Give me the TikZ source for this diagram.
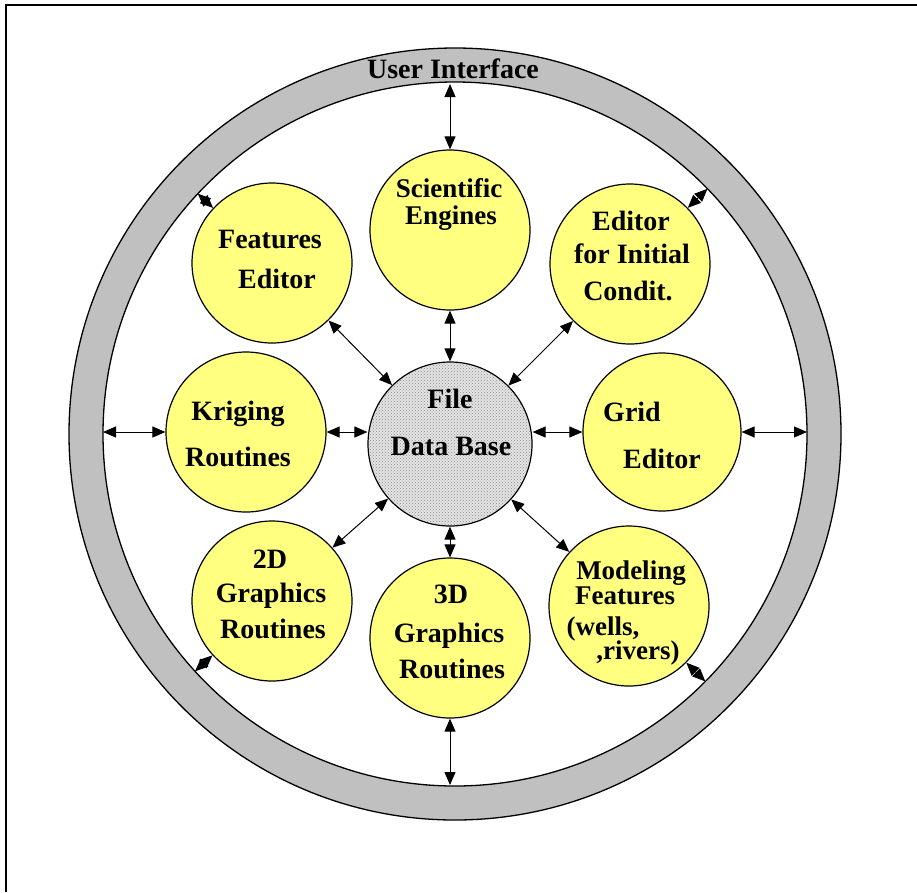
\documentclass[tikz,border=0pt]{standalone}
\usepackage{fontspec}
\setmainfont{Liberation Serif}
\usetikzlibrary{arrows.meta,calc,patterns}
\definecolor{ringgray}{RGB}{192,192,192}
\definecolor{bubble}{RGB}{255,255,128}
\definecolor{dbgray}{RGB}{228,228,228}
\begin{document}
\begin{tikzpicture}[x=1pt,y=-1pt,
  bubblenode/.style={circle,draw=black,line width=1.2pt,fill=bubble,minimum size=160pt,inner sep=0pt},
  lbl/.style={anchor=base,inner sep=0pt,font=\fontsize{28}{30}\selectfont\bfseries},
  tightlbl/.style={lbl,font=\fontsize{27}{28}\selectfont\bfseries},
  link/.style={line width=1pt,{Triangle[length=13pt,width=11pt]}-{Triangle[length=13pt,width=11pt]}}]
\useasboundingbox (0,0) rectangle (917,892);
\fill[white] (0,0) rectangle (917,892);
% page frame (top and left edges)
\draw[line width=2.5pt] (917,5) -- (6,5) -- (6,892);

% user-interface ring
\coordinate (C) at (455,434);
\path[fill=ringgray,draw=black,line width=1.3pt,even odd rule]
  (C) circle[radius=386] (C) circle[radius=352];
\node[lbl] (ui) at (453,78) {User Interface};

% central data base
\node[circle,draw=black,line width=1.2pt,fill=dbgray,minimum size=164pt,inner sep=0pt] (fdb) at (450,444) {};
\fill[pattern=crosshatch dots,pattern color=gray!90] (fdb.center) circle[radius=81];
\node[lbl] (fdb1) at (450,408) {File};
\node[lbl] (fdb2) at (451,455) {Data Base};

% modules
\node[bubblenode] (sci) at (450,230) {};
\node[bubblenode] (fe)  at (272,263) {};
\node[bubblenode] (ei)  at (630,264) {};
\node[bubblenode] (kr)  at (246,432) {};
\node[bubblenode,minimum size=158pt] (ge) at (662,432) {};
\node[bubblenode] (g2)  at (272,601) {};
\node[bubblenode] (g3)  at (450,638) {};
\node[bubblenode] (mf)  at (629,606) {};

\node[tightlbl] (sci1) at (449,197) {Scientific};
\node[tightlbl] (sci2) at (451,224) {Engines};
\node[lbl] (fe1) at (270,248) {Features};
\node[lbl] (fe2) at (277,288) {Editor};
\node[lbl] (ei1) at (631,230) {Editor};
\node[lbl] (ei2) at (632,263) {for Initial};
\node[lbl] (ei3) at (628,300) {Condit.};
\node[lbl] (kr1) at (238,420) {Kriging};
\node[lbl] (kr2) at (238,466) {Routines};
\node[lbl] (ge1) at (632,421) {Grid};
\node[lbl] (ge2) at (662,468) {Editor};
\node[lbl] (g21) at (270,568) {2D};
\node[lbl] (g22) at (271,602) {Graphics};
\node[lbl] (g23) at (273,638) {Routines};
\node[lbl] (g31) at (451,603) {3D};
\node[lbl] (g32) at (449,642) {Graphics};
\node[lbl] (g33) at (452,678) {Routines};
\node[tightlbl] (mf1) at (631,579) {Modeling};
\node[tightlbl] (mf2) at (625,604) {Features};
\node[tightlbl] (mf3) at (603,635) {(wells,};
\node[tightlbl] (mf4) at (638,659) {,rivers)};

% points on the inner edge of the ring
\coordinate (ut) at (450,84);
\coordinate (ub) at (450,785);
\coordinate (ul) at (103,432);
\coordinate (ur) at (807,432);
\coordinate (ufe) at ($(C)!352pt!(fe)$);
\coordinate (uei) at ($(C)!352pt!(ei)$);
\coordinate (ug2) at ($(C)!352pt!(g2)$);
\coordinate (umf) at ($(C)!352pt!(mf)$);

% module <-> user interface
\draw[link] (sci.north) -- (ut);
\draw[link] (g3.south) -- (ub);
\draw[link] (kr.west) -- (ul);
\draw[link] (ge.east) -- (ur);
\draw[link] (fe) -- (ufe);
\draw[link] (ei) -- (uei);
\draw[link] (g2) -- (ug2);
\draw[link] (mf) -- (umf);

% module <-> data base
\draw[link] (sci) -- (fdb);
\draw[link] (g3) -- (fdb);
\draw[link] (kr.east) -- (kr.east -| fdb.west);
\draw[link] (ge.west) -- (ge.west -| fdb.east);
\draw[link] (fe) -- (fdb);
\draw[link] (ei) -- (fdb);
\draw[link] (g2) -- (fdb);
\draw[link] (mf) -- (fdb);
\end{tikzpicture}
\end{document}
